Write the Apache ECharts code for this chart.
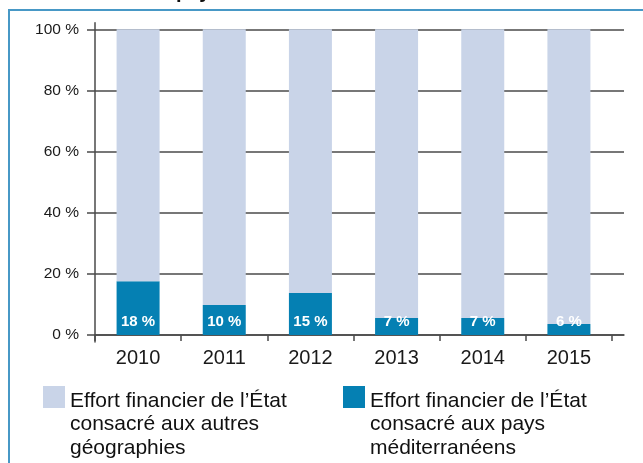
<!DOCTYPE html>
<html>
<head>
<meta charset="utf-8">
<script src="https://cdn.jsdelivr.net/npm/echarts@6/dist/echarts.min.js"></script>
<style>
  html, body { margin: 0; padding: 0; background: #fff; }
  #chart { width: 643px; height: 463px; }
</style>
</head>
<body>
<div id="chart"></div>
<script>
// années
const years = ["2010", "2011", "2012", "2013", "2014", "2015"]
// part méditerranée (hauteur des barres)
const mediterranee = [17.6, 9.8, 13.7, 5.6, 5.6, 3.6]
// étiquettes affichées dans les barres
const mediterraneeLabels = ["18 %", "10 %", "15 %", "7 %", "7 %", "6 %"]
// reste jusqu'à 100 %
const autres = [82.4, 90.2, 86.3, 94.4, 94.4, 96.4]
const yTicks = [0, 20, 40, 60, 80, 100]

const nameAutres = "Effort financier de l’État consacré aux autres géographies"
const nameMed = "Effort financier de l’État consacré aux pays méditerranéens"
const legendText = {
  [nameAutres]: "Effort financier de l’État\nconsacré aux autres\ngéographies",
  [nameMed]: "Effort financier de l’État\nconsacré aux pays\nméditerranéens"
}

const font = "Liberation Sans"
const axisColor = "#4a4a4a"

// carré en haut d'une case haute, pour aligner l'icône sur la 1re ligne
const legendBase = {
  orient: "vertical",
  top: 386,
  padding: 0,
  itemWidth: 22,
  itemHeight: 77,
  icon: "path://M0,0L22,0L22,22L0,22Z M0,77L22,77",
  formatter: function (name) { return legendText[name] },
  textStyle: {
    fontFamily: font,
    fontSize: 21,
    lineHeight: 23.5,
    color: "#111"
  }
}

const option = {
  animation: false,
  backgroundColor: "#fff",
  title: {
    text: "aux pays méditerranéens",
    left: 136,
    top: -18,
    padding: 0,
    textStyle: { fontFamily: font, fontSize: 20, fontWeight: "bold", color: "#111" }
  },
  graphic: [
    {
      type: "rect",
      shape: { x: 9, y: 10, width: 700, height: 500 },
      style: { fill: "none", stroke: "#4798c6", lineWidth: 2 },
      silent: true
    }
  ],
  legend: [
    Object.assign({}, legendBase, { left: 43, data: [nameAutres] }),
    Object.assign({}, legendBase, { left: 343, data: [nameMed] })
  ],
  grid: [
    // grille large : lignes horizontales et axe du bas prolongé
    { left: 95, right: 19, top: 29.3, bottom: 128 },
    // grille des barres
    { left: 95, right: 31, top: 29.3, bottom: 128 },
    // axe vertical prolongé
    { left: 95, right: 31, top: 22.7, bottom: 121 }
  ],
  xAxis: [
    {
      gridIndex: 0, type: "value", min: 0, max: 1,
      axisLine: { show: true, lineStyle: { color: axisColor, width: 1.5 } },
      axisTick: { show: false }, axisLabel: { show: false }, splitLine: { show: false }
    },
    {
      gridIndex: 1, type: "category", data: years,
      axisLine: { show: false },
      axisTick: { show: true, length: 6, lineStyle: { color: axisColor, width: 1.5 } },
      axisLabel: { fontFamily: font, fontSize: 20, color: "#1a1a1a", margin: 13 }
    },
    { gridIndex: 2, type: "value", show: false }
  ],
  yAxis: [
    {
      gridIndex: 0, type: "value", min: 0, max: 100, interval: 20,
      axisLine: { show: false }, axisTick: { show: false }, axisLabel: { show: false },
      splitLine: { show: true, lineStyle: { color: axisColor, width: 1.5 } }
    },
    {
      gridIndex: 1, type: "value", min: 0, max: 100, interval: 20,
      axisLine: { show: false },
      axisTick: { show: true, length: 8, lineStyle: { color: axisColor, width: 1.5 } },
      splitLine: { show: false },
      axisLabel: {
        fontFamily: font, fontSize: 15.5, color: "#1a1a1a", margin: 16,
        formatter: function (v) { return yTicks.indexOf(v) >= 0 ? v + " %" : "" }
      }
    },
    {
      gridIndex: 2, type: "value", min: 0, max: 1,
      axisLine: { show: true, lineStyle: { color: axisColor, width: 1.5 } },
      axisTick: { show: false }, axisLabel: { show: false }, splitLine: { show: false }
    }
  ],
  series: [
    {
      name: nameMed,
      type: "bar",
      stack: "total",
      xAxisIndex: 1,
      yAxisIndex: 1,
      barWidth: 43,
      data: mediterranee,
      itemStyle: { color: "#0580b3" },
      label: {
        show: true,
        position: "insideBottom",
        distance: 6,
        color: "#fff",
        fontFamily: font,
        fontSize: 15,
        fontWeight: "bold",
        formatter: function (p) { return mediterraneeLabels[p.dataIndex] }
      }
    },
    {
      name: nameAutres,
      type: "bar",
      stack: "total",
      xAxisIndex: 1,
      yAxisIndex: 1,
      barWidth: 43,
      data: autres,
      itemStyle: { color: "#c9d4e8" }
    }
  ]
}

const myChart = echarts.init(document.getElementById("chart"))
myChart.setOption(option)
window.addEventListener("resize", function () {
  myChart.resize()
})
</script>
</body>
</html>
